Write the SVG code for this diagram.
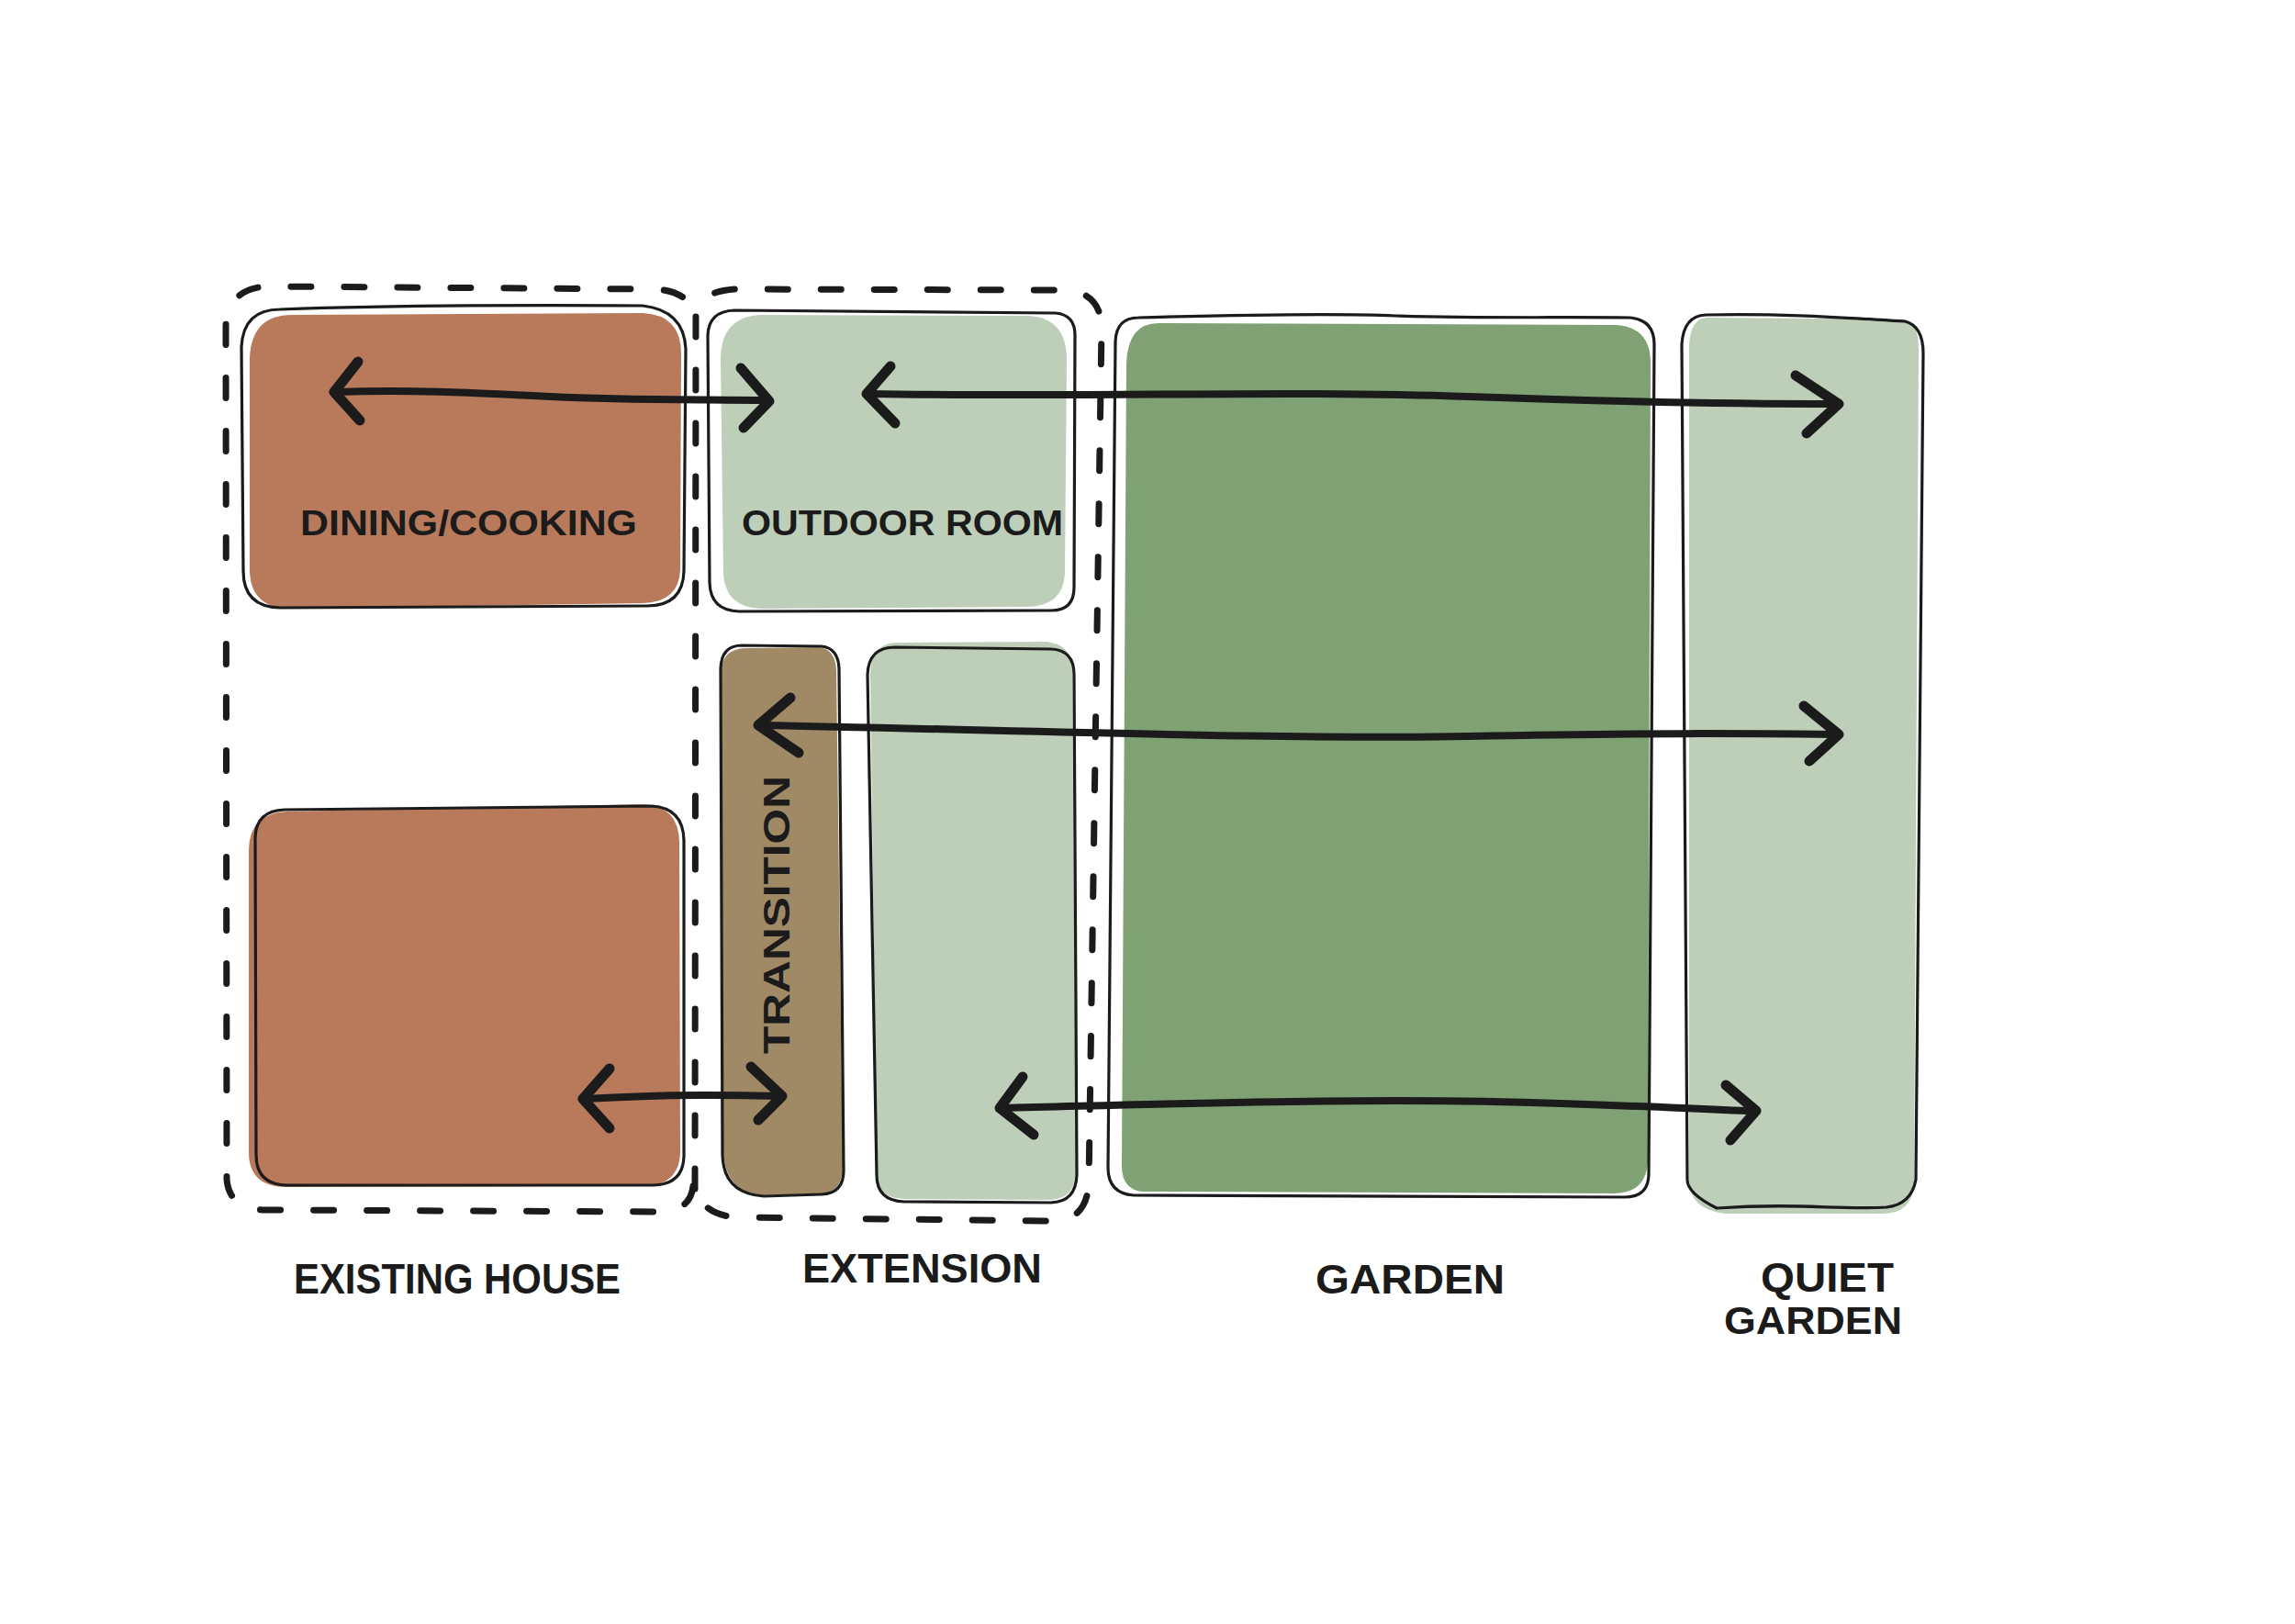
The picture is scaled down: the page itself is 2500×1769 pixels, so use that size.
<svg xmlns="http://www.w3.org/2000/svg" width="2500" height="1769" viewBox="0 0 2500 1769">
<defs>
<style>
.terra{fill:#B87A5B}
.pale{fill:#BDCFB8}
.deep{fill:#7FA173}
.khaki{fill:#A08A66}
.outline{fill:none;stroke:#1b1b1b;stroke-width:3.2;stroke-linejoin:round;stroke-linecap:round}
.dash{fill:none;stroke:#1b1b1b;stroke-width:7;stroke-dasharray:22 36;stroke-linecap:round;stroke-linejoin:round}
.shaft{fill:none;stroke:#1b1b1b;stroke-width:8;stroke-linecap:round;stroke-linejoin:round}
.head{fill:none;stroke:#1b1b1b;stroke-width:11;stroke-linecap:round;stroke-linejoin:round}
.lbl{font-family:"Liberation Sans","DejaVu Sans",sans-serif;font-weight:bold;fill:#1b1b1b}
</style>
</defs>
<rect x="0" y="0" width="2500" height="1769" fill="#ffffff"/>

<g id="existing-house-zone">
<path class="dash" d="M 755 1292 Q 752 1319 720 1320 L 290 1318 Q 250 1318 247 1285 L 246 355 Q 248 315 290 312 L 715 315 Q 752 318 758 345"/>
</g>
<g id="extension-zone">
<path class="dash" d="M 757 1295 L 758 340 Q 762 318 800 315 L 1160 316 Q 1198 318 1200 355 L 1186 1290 Q 1183 1328 1150 1330 L 800 1326 Q 765 1322 757 1295"/>
</g>

<g id="dining-cooking">
<path class="terra" d="M 318 343 L 700 341 Q 742 343 742 385 L 741 620 Q 740 656 700 657 L 320 663 Q 272 664 272 620 L 272 390 Q 274 343 318 343 Z"/>
<path class="outline" d="M 305 337 C 420 333 560 332 700 333 Q 745 338 747 380 L 745 622 Q 744 660 705 660 L 305 662 Q 265 661 265 622 L 263 378 Q 265 337 305 337 Z"/>
<text class="lbl" x="327" y="583" font-size="38" textLength="367" lengthAdjust="spacingAndGlyphs">DINING/COOKING</text>
</g>

<g id="existing-lower">
<path class="terra" d="M 312 884 L 700 876 Q 740 878 740 918 L 741 1255 Q 740 1292 700 1292 L 310 1293 Q 271 1292 271 1255 L 271 925 Q 272 886 312 884 Z"/>
<path class="outline" d="M 310 882 L 710 878 Q 744 880 745 915 L 745 1260 Q 744 1290 712 1291 L 312 1291 Q 279 1290 279 1258 L 278 912 Q 279 883 310 882 Z"/>
</g>

<g id="outdoor-room">
<path class="pale" d="M 830 343 L 1120 344 Q 1162 346 1162 392 L 1160 625 Q 1158 660 1120 661 L 830 663 Q 790 662 788 625 L 785 390 Q 786 344 830 343 Z"/>
<path class="outline" d="M 800 338 L 1150 341 Q 1171 343 1171 365 L 1170 640 Q 1170 665 1145 665 L 805 666 Q 774 665 773 635 L 771 365 Q 772 339 800 338 Z"/>
<text class="lbl" x="808" y="583" font-size="38" textLength="350" lengthAdjust="spacingAndGlyphs">OUTDOOR ROOM</text>
</g>

<g id="transition">
<path class="khaki" d="M 812 706 L 892 705 Q 910 707 911 730 L 918 1270 Q 918 1300 893 1300 L 830 1302 Q 790 1298 788 1255 L 786 730 Q 787 707 812 706 Z"/>
<path class="outline" d="M 808 703 L 895 704 Q 913 706 914 728 L 919 1275 Q 919 1300 895 1301 L 832 1303 Q 788 1300 787 1258 L 785 728 Q 786 703 808 703 Z"/>
<text class="lbl" font-size="40" transform="translate(860,1148) rotate(-90)" textLength="303" lengthAdjust="spacingAndGlyphs">TRANSITION</text>
</g>

<g id="extension-lower">
<path class="pale" d="M 975 700 L 1140 699 Q 1168 702 1168 730 L 1172 1275 Q 1172 1305 1145 1307 L 985 1306 Q 955 1305 955 1278 L 948 735 Q 948 702 975 700 Z"/>
<path class="outline" d="M 975 705 L 1145 707 Q 1170 708 1170 735 L 1173 1280 Q 1172 1309 1145 1310 L 985 1309 Q 955 1308 955 1280 L 945 735 Q 946 705 975 705 Z"/>
</g>

<g id="garden">
<path class="deep" d="M 1262 352 L 1760 354 Q 1798 356 1798 395 L 1795 1265 Q 1793 1300 1758 1300 L 1245 1298 Q 1222 1296 1222 1270 L 1227 395 Q 1229 352 1262 352 Z"/>
<path class="outline" d="M 1240 346 C 1350 343 1450 341 1520 344 C 1620 347 1700 345 1775 346 Q 1802 348 1802 375 L 1796 1280 Q 1795 1304 1770 1304 L 1235 1302 Q 1207 1300 1207 1272 L 1215 372 Q 1216 346 1240 346 Z"/>
</g>

<g id="quiet-garden">
<path class="pale" d="M 1860 346 L 2075 348 Q 2090 352 2090 380 L 2085 1290 Q 2083 1322 2050 1322 L 1880 1322 Q 1840 1318 1840 1285 L 1840 375 Q 1842 346 1860 346 Z"/>
<path class="outline" d="M 1858 343 C 1950 341 2020 347 2075 350 Q 2095 355 2095 385 L 2087 1285 Q 2082 1312 2055 1315 C 2000 1318 1960 1310 1870 1316 Q 1838 1300 1838 1285 L 1832 375 Q 1834 344 1858 343 Z"/>
</g>

<g id="connectors">
<g id="arrow-1">
<path class="shaft" d="M 366 427 C 450 424 520 428 600 432 S 760 435 836 436"/>
<polyline class="head" points="390,394 364,427 392,458"/>
<polyline class="head" points="807,401 838,437 810,466"/>
</g>
<g id="arrow-2">
<path class="shaft" d="M 946 429 C 1200 433 1400 425 1600 432 S 1900 440 2001 440"/>
<polyline class="head" points="970,399 944,429 975,461"/>
<polyline class="head" points="1956,409 2003,440 1968,472"/>
</g>
<g id="arrow-3">
<path class="shaft" d="M 828 790 C 1100 795 1400 806 1600 802 S 1900 799 2001 800"/>
<polyline class="head" points="861,760 826,790 870,820"/>
<polyline class="head" points="1965,769 2003,800 1971,829"/>
</g>
<g id="arrow-4">
<path class="shaft" d="M 637 1197 C 700 1193 780 1192 850 1194"/>
<polyline class="head" points="664,1164 635,1197 664,1229"/>
<polyline class="head" points="818,1162 852,1194 826,1220"/>
</g>
<g id="arrow-5">
<path class="shaft" d="M 1091 1207 C 1300 1202 1500 1195 1700 1202 S 1880 1210 1911 1210"/>
<polyline class="head" points="1114,1173 1089,1207 1126,1236"/>
<polyline class="head" points="1880,1182 1913,1210 1885,1242"/>
</g>
</g>

<g id="labels">
<text class="lbl" x="320" y="1409" font-size="46" textLength="356" lengthAdjust="spacingAndGlyphs">EXISTING HOUSE</text>
<text class="lbl" x="874" y="1397" font-size="44" textLength="261" lengthAdjust="spacingAndGlyphs">EXTENSION</text>
<text class="lbl" x="1433" y="1409" font-size="44" textLength="206" lengthAdjust="spacingAndGlyphs">GARDEN</text>
<text class="lbl" x="1918" y="1407" font-size="44" textLength="145" lengthAdjust="spacingAndGlyphs">QUIET</text>
<text class="lbl" x="1878" y="1453" font-size="42" textLength="194" lengthAdjust="spacingAndGlyphs">GARDEN</text>
</g>
</svg>
